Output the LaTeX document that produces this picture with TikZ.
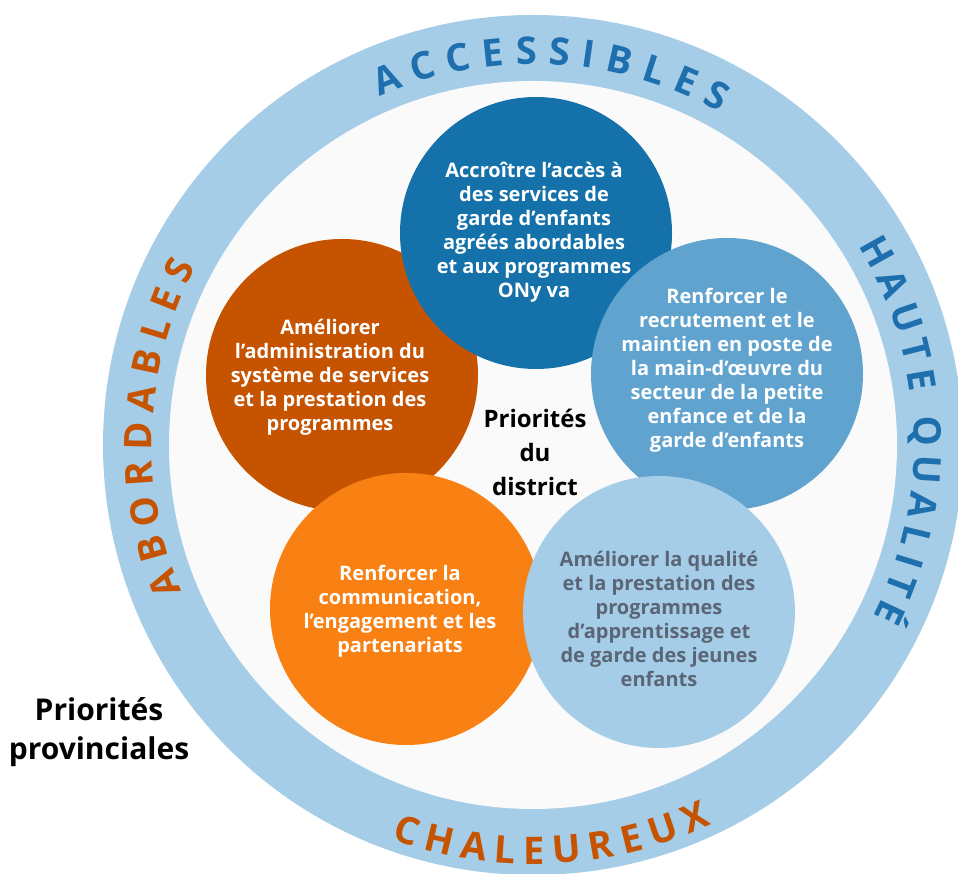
\documentclass[tikz,border=0pt]{standalone}
\usepackage{fontspec}
\setmainfont{Open Sans}
\usepackage{tikz}
\usetikzlibrary{decorations.text}
\definecolor{ringblue}{HTML}{A6CDE8}
\definecolor{darkblue}{HTML}{1571A9}
\definecolor{midblue}{HTML}{60A3CF}
\definecolor{rust}{HTML}{C65300}
\definecolor{tangerine}{HTML}{F98013}
\definecolor{slate}{HTML}{5A6576}
\definecolor{wordblue}{HTML}{1D6FAE}
\definecolor{paper}{HTML}{FAFAFA}
\newcommand\goalfont{\fontsize{20}{24}\selectfont\bfseries}
\newcommand\ringfont{\fontsize{38}{38}\selectfont\bfseries}
\tikzstyle{goal} = [circle, minimum size=272pt, inner sep=0pt]
\tikzstyle{goaltext} = [align=center, font=\goalfont, text=white]
\tikzstyle{ringword} = [decorate, decoration={text along path, text align={fit to path}}]

\begin{document}
\begin{tikzpicture}[x=1pt,y=1pt]
			\fill[white] (0,0) rectangle (958,874);
			\useasboundingbox (0,0) rectangle (958,874);
			\coordinate (c) at (533,429);
			\fill[ringblue] (c) circle[radius=430pt];
			\fill[paper] (c) circle[radius=364pt];
			% words on the ring
			\path[ringword, decoration={text={|\ringfont|ACCESSIBLES}, text color=wordblue}] ([shift={(113.8:381pt)}]c) arc[start angle=113.8, end angle=60.7, radius=381pt];
			\path[ringword, decoration={text={|\ringfont|HAUTE QUALITÉ}, text color=wordblue}] ([shift={(31.5:381pt)}]c) arc[start angle=31.5, end angle=-26.8, radius=381pt];
			\path[ringword, decoration={text={|\ringfont|ABORDABLES}, text color=rust}] ([shift={(202.6:381pt)}]c) arc[start angle=202.6, end angle=152.2, radius=381pt];
			\path[ringword, decoration={text={|\ringfont|CHALEUREUX}, text color=rust}] ([shift={(250.2:419pt)}]c) arc[start angle=250.2, end angle=295.2, radius=419pt];
			% five priorities
			\node[goal, fill=rust] (admin) at (342,499) {};
			\node[goal, fill=darkblue] (access) at (536,641) {};
			\node[goal, fill=midblue] (workforce) at (727,500) {};
			\node[goal, fill=tangerine] (engage) at (406,265) {};
			\node[goal, fill=ringblue] (quality) at (659,262) {};
			\node[goaltext] (access-t) at (534,642) {Accroître l’accès à\\des services de\\garde d’enfants\\agréés abordables\\et aux programmes\\ONy va};
			\node[goaltext] (admin-t) at (330,497) {Améliorer\\l’administration du\\système de services\\et la prestation des\\programmes};
			\node[goaltext] (workforce-t) at (727,504) {Renforcer le\\recrutement et le\\maintien en poste de\\la main-d’œuvre du\\secteur de la petite\\enfance et de la\\garde d’enfants};
			\node[goaltext] (engage-t) at (400,263) {Renforcer la\\communication,\\l’engagement et les\\partenariats};
			\node[goaltext, text=slate] (quality-t) at (659,255) {Améliorer la qualité\\et la prestation des\\programmes\\d’apprentissage et\\de garde des jeunes\\enfants};
			\node[font=\fontsize{24}{34}\selectfont\bfseries, align=center] (district) at (535,422) {Priorités\\du\\district};
			\node[font=\fontsize{30}{39}\selectfont\bfseries, align=center] (province) at (99,142) {Priorités\\provinciales};
		\end{tikzpicture}
\end{document}
